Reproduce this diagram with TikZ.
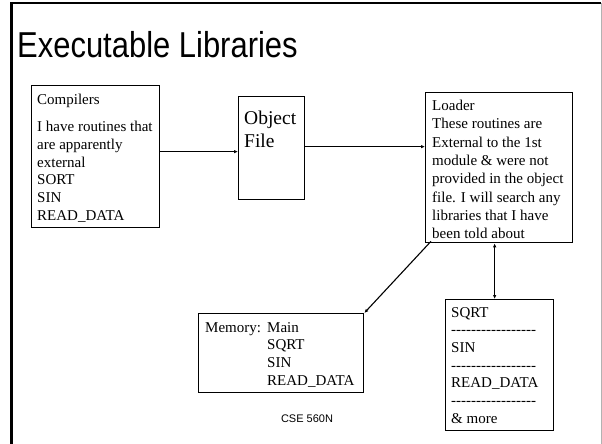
\documentclass[tikz,border=0pt]{standalone}
\usepackage{fontspec}
\setmainfont{Liberation Serif}
\setsansfont{Liberation Sans}
\newfontfamily\nolig{Liberation Serif}[Ligatures=TeXOff]
\usetikzlibrary{arrows.meta}
\newcommand\dashrow{{\nolig -----------------}}
\begin{document}
\begin{tikzpicture}[x=1pt,y=-1pt,
  box/.style={draw, line width=1.3pt, inner sep=0pt, anchor=north west},
  txt/.style={anchor=north west, inner sep=0pt, align=left, font=\fontsize{15}{17.7}\selectfont},
  arr/.style={line width=1.1pt, -{Latex[length=4pt,width=3.5pt]}},
  dblarr/.style={line width=1.1pt, {Latex[length=4pt,width=3.5pt]}-{Latex[length=4pt,width=3.5pt]}},
  frameline/.style={line width=2.5pt}]
\useasboundingbox (0,0) rectangle (602,444);
\draw[frameline] (11.5,444) -- (11.5,3) -- (601,3);
\draw[black!30, line width=0.8pt] (601,3) -- (601,444);
\node[anchor=base west, inner sep=0pt, font=\sffamily\fontsize{36}{40}\selectfont] (title) at (17,57) {\scalebox{0.86}[1]{Executable Libraries}};
% boxes
\node[box, minimum width=128pt, minimum height=142pt] (comp) at (31,85) {};
\node[box, minimum width=66pt, minimum height=103pt] (obj) at (238,96) {};
\node[box, minimum width=147pt, minimum height=150pt] (load) at (425,92) {};
\node[box, minimum width=165pt, minimum height=79pt] (mem) at (198,313) {};
\node[box, minimum width=108pt, minimum height=131pt] (lib) at (445,299) {};
% texts
\node[txt] (compt) at (37,94) {Compilers\\[9.5pt]I have routines that\\are apparently\\external\\SORT\\SIN\\READ\_DATA};
\node[txt, font=\fontsize{19.5}{23}\selectfont] (objt) at (244,111) {Object\\File};
\node[txt, font=\fontsize{15}{18.3}\selectfont] (loadt) at (432,100) {Loader\\These routines are\\External to the 1st\\module \& were not\\provided in the object\\file. I will search any\\libraries that I have\\been told about};
\node[txt] (memt) at (205,322) {Memory:};
\node[txt] (memlist) at (267,322) {Main\\SQRT\\SIN\\READ\_DATA};
\node[txt] (libt) at (451,307) {SQRT\\\dashrow\\SIN\\\dashrow\\READ\_DATA\\\dashrow\\\& more};
\node[inner sep=0pt, font=\sffamily\fontsize{11}{13}\selectfont] (foot) at (307,419) {CSE 560N};
% connectors
\draw[arr] ([yshift=5pt]comp.east) coordinate (c1) -- (c1 -| obj.west);
\draw[arr] ([yshift=1.5pt]obj.east) coordinate (c2) -- (c2 -| load.west);
\draw[arr] ([xshift=6pt,yshift=2pt]load.south west) -- (mem.north east);
\draw[dblarr] ([xshift=-5pt]lib.north) coordinate (c3) -- (c3 |- load.south);
\end{tikzpicture}
\end{document}
